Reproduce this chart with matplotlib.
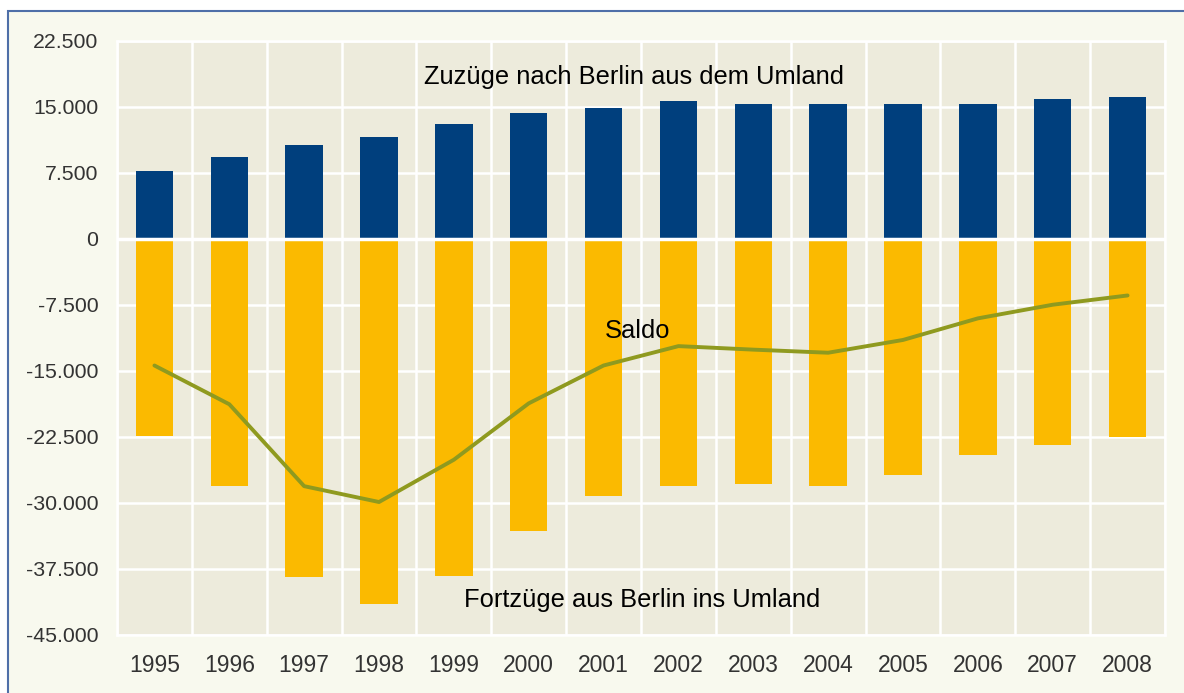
import matplotlib.pyplot as plt
from matplotlib.patches import Rectangle
import numpy as np

plt.rcParams['font.family'] = ['Liberation Sans', 'DejaVu Sans']

years = ['1995', '1996', '1997', '1998', '1999', '2000', '2001',
         '2002', '2003', '2004', '2005', '2006', '2007', '2008']
zuzuege = [7650, 9250, 10600, 11500, 13050, 14300, 14800,
           15650, 15250, 15250, 15250, 15250, 15900, 16100]
fortzuege = [-22350, -28100, -38450, -41500, -38250, -33150, -29200,
             -28100, -27900, -28100, -26800, -24550, -23450, -22550]
saldo = [-14400, -18800, -28100, -29900, -25100, -18700, -14400,
         -12200, -12600, -12950, -11500, -9050, -7500, -6450]

yticks = [-45000, -37500, -30000, -22500, -15000, -7500, 0, 7500, 15000, 22500]
ytick_labels = ['-45.000', '-37.500', '-30.000', '-22.500', '-15.000', '-7.500',
                '0', '7.500', '15.000', '22.500']

fig = plt.figure(figsize=(11.84, 6.93), dpi=100)
fig.patch.set_facecolor('white')

# outer frame of the chart, kept behind the axes
frame = Rectangle((8 / 1184, -0.1), 1.1, 0.1 + (693 - 11) / 693,
                  transform=fig.transFigure, facecolor='#f8f9ee',
                  edgecolor='#4f6fa8', linewidth=1.5, zorder=-10)
fig.add_artist(frame)

ax = fig.add_axes([117 / 1184, 1 - 635 / 693, (1165 - 117) / 1184, (635 - 40.5) / 693])
ax.set_facecolor('#edebdc')
ax.set_zorder(5)

x = np.arange(len(years))
ax.bar(x, zuzuege, width=0.5, color='#003f7d', zorder=2)
ax.bar(x, fortzuege, width=0.5, color='#fbba00', zorder=2)
ax.plot(x, saldo, color='#8f9a1f', linewidth=2.8, zorder=4, solid_capstyle='round')
ax.axhline(0, color='white', linewidth=2.5, zorder=3)

ax.set_xlim(-0.5, len(years) - 0.5)
ax.set_ylim(-45000, 22500)
ax.set_yticks(yticks)
ax.set_yticklabels(ytick_labels)
ax.set_xticks(x)
ax.set_xticklabels(years)
ax.set_xticks(np.arange(-0.5, len(years), 1), minor=True)

ax.grid(axis='y', which='major', color='white', linewidth=1.8, zorder=1)
ax.grid(axis='x', which='minor', color='white', linewidth=1.8, zorder=1)
ax.grid(axis='x', which='major', visible=False)
ax.set_axisbelow(True)
ax.tick_params(axis='both', which='both', length=0, colors='#333333')
ax.tick_params(axis='y', pad=13.5, labelsize=15.3)
ax.tick_params(axis='x', pad=14, labelsize=16.5)
for s in ax.spines.values():
    s.set_color('white')
    s.set_linewidth(1.8)

ax.text(6.41, 18400, 'Zuzüge nach Berlin aus dem Umland', ha='center', va='center',
        fontsize=18.4, color='black')
ax.text(6.45, -10500, 'Saldo', ha='center', va='center', fontsize=18.4, color='black')
ax.text(6.51, -41000, 'Fortzüge aus Berlin ins Umland', ha='center', va='center',
        fontsize=18.4, color='black')

fig.savefig('out.png', dpi=100)
